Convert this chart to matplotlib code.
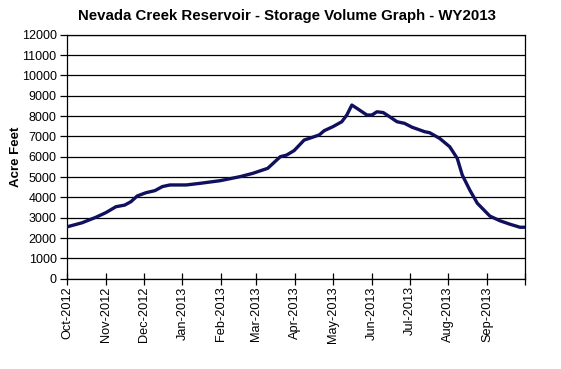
import matplotlib
matplotlib.use("Agg")
import matplotlib.pyplot as plt
import matplotlib.dates as mdates
import numpy as np
import datetime as dt

plt.rcParams['font.family'] = ['Liberation Sans', 'DejaVu Sans']

dates = ["2012-10-01", "2012-10-13", "2012-10-24", "2012-11-01", "2012-11-09",
         "2012-11-16", "2012-11-21", "2012-11-26", "2012-12-03", "2012-12-10",
         "2012-12-16", "2012-12-22", "2013-01-04", "2013-01-15", "2013-01-31",
         "2013-02-16", "2013-02-26", "2013-03-10", "2013-03-20", "2013-03-25",
         "2013-03-31", "2013-04-08", "2013-04-12", "2013-04-20", "2013-04-24",
         "2013-05-01", "2013-05-08", "2013-05-12", "2013-05-16", "2013-05-20",
         "2013-05-28", "2013-06-01", "2013-06-05", "2013-06-10", "2013-06-15",
         "2013-06-21", "2013-06-27", "2013-07-03", "2013-07-13", "2013-07-17",
         "2013-07-25", "2013-08-02", "2013-08-08", "2013-08-12", "2013-08-18",
         "2013-08-24", "2013-09-03", "2013-09-11", "2013-09-19", "2013-09-27",
         "2013-09-30"]
storage = [2550, 2750, 3020, 3250, 3540,
           3620, 3790, 4070, 4230, 4330,
           4530, 4610, 4610, 4690, 4820,
           5020, 5180, 5430, 6000, 6080,
           6300, 6820, 6900, 7070, 7280,
           7480, 7720, 8050, 8540, 8380,
           8050, 8050, 8210, 8170, 7970,
           7720, 7640, 7450, 7230, 7180,
           6900, 6490, 5920, 5100, 4360,
           3710, 3080, 2850, 2680, 2530,
           2530]
month_ticks = ["2012-10-01", "2012-11-01", "2012-12-01", "2013-01-01", "2013-02-01",
               "2013-03-01", "2013-04-01", "2013-05-01", "2013-06-01", "2013-07-01",
               "2013-08-01", "2013-09-01", "2013-10-01"]
month_labels = ["Oct-2012", "Nov-2012", "Dec-2012", "Jan-2013", "Feb-2013", "Mar-2013",
                "Apr-2013", "May-2013", "Jun-2013", "Jul-2013", "Aug-2013", "Sep-2013", ""]
y_ticks = list(range(0, 12001, 1000))

to_dt = lambda s: dt.datetime.strptime(s, "%Y-%m-%d")
x = [to_dt(d) for d in dates]
xt = [to_dt(d) for d in month_ticks]

fig = plt.figure(figsize=(5.61, 3.69), dpi=100)
ax = fig.add_axes([67/561, 1-278.7/369, (525-67)/561, (278.7-34.7)/369])

ax.plot(x, storage, color='#10105e', linewidth=2.4, solid_joinstyle='round', zorder=3)

ax.set_xlim(xt[0], xt[-1])
ax.set_ylim(0, 12000)
ax.set_yticks(y_ticks)
ax.set_yticklabels([str(v) for v in y_ticks], fontsize=9)
ax.set_xticks(xt)
ax.set_xticklabels(month_labels, rotation=90, fontsize=9.2)
ax.yaxis.grid(True, color='black', linewidth=0.9)
ax.set_axisbelow(True)
ax.tick_params(axis='y', direction='out', length=5, width=0.9, pad=2.5, colors='black')
ax.tick_params(axis='x', direction='inout', length=9, width=0.9, pad=1, colors='black')
for s in ax.spines.values():
    s.set_color('black')
    s.set_linewidth(0.9)

ax.set_ylabel("Acre Feet", fontsize=9.5, fontweight='bold', labelpad=0)
fig.text(287/561, 1-16/369, "Nevada Creek Reservoir - Storage Volume Graph - WY2013",
         ha='center', va='center', fontsize=10.8, fontweight='bold')

fig.savefig("out.png", dpi=100, facecolor='white')
